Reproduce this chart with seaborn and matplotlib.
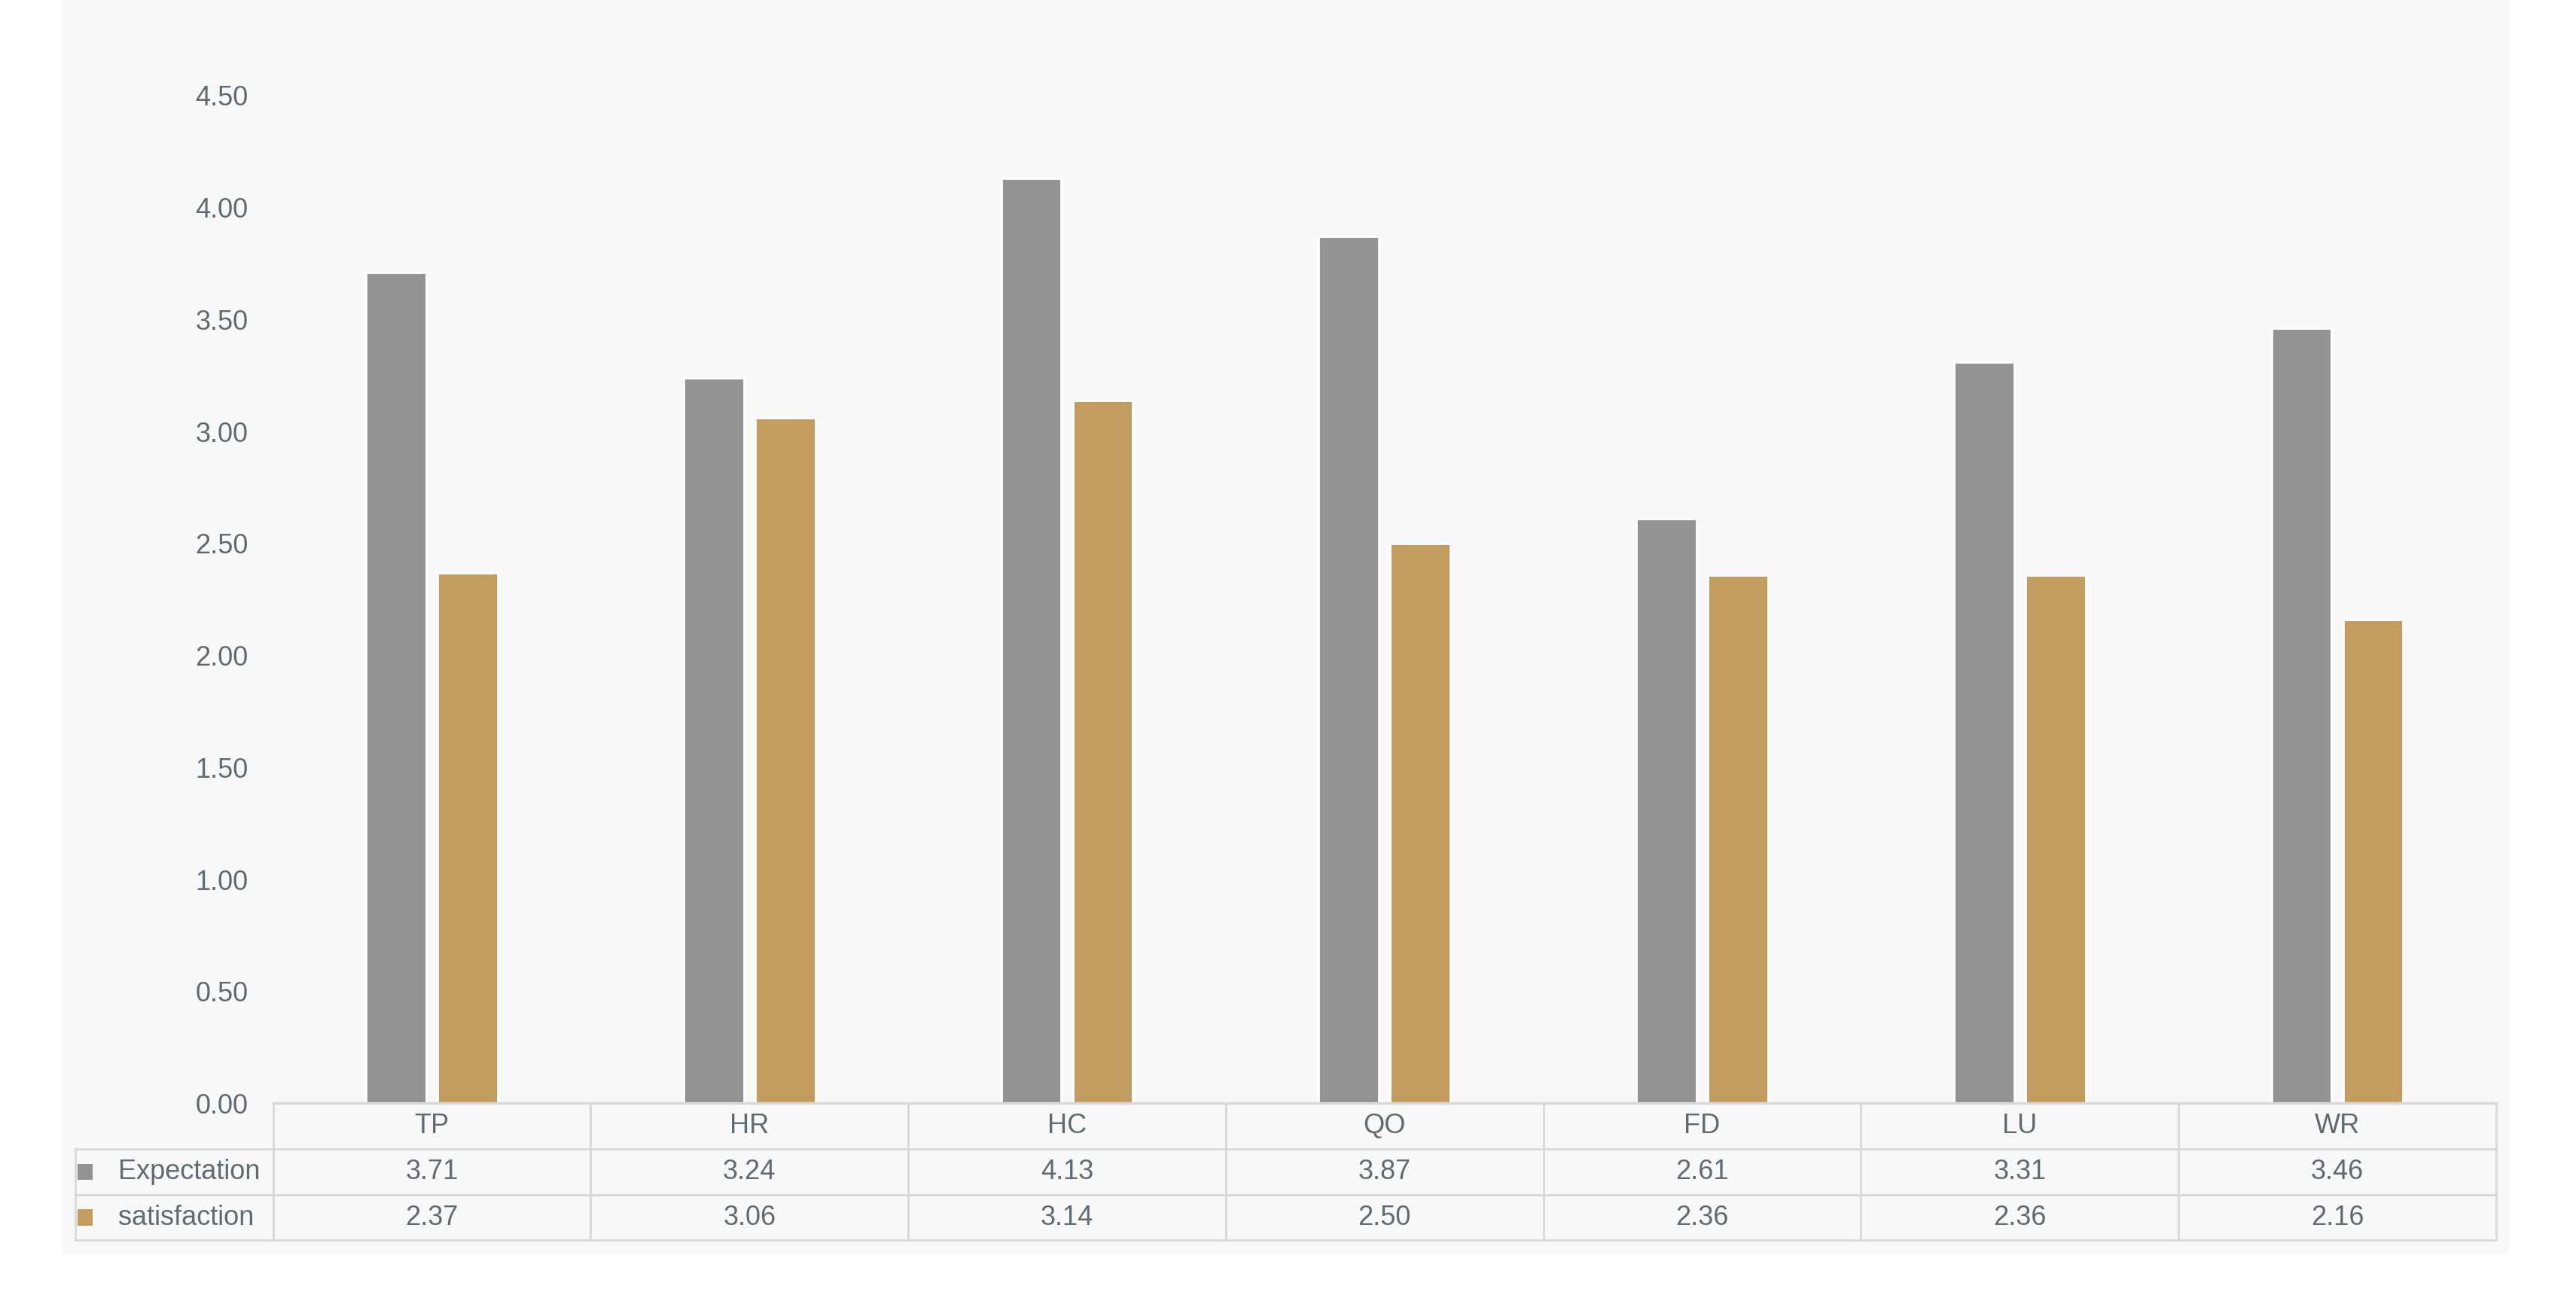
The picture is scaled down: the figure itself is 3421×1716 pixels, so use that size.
import numpy as np
import pandas as pd
import matplotlib
matplotlib.use("Agg")
import matplotlib.pyplot as plt
from matplotlib.patches import Rectangle
import seaborn as sns

# === Data ===
categories = ["TP", "HR", "HC", "QO", "FD", "LU", "WR"]
expectation = [3.71, 3.24, 4.13, 3.87, 2.61, 3.31, 3.46]
satisfaction = [2.37, 3.06, 3.14, 2.50, 2.36, 2.36, 2.16]
series_names = ["Expectation", "satisfaction"]
colors = ["#939393", "#c39d5f"]
text_col = "#5f6b70"
line_col = "#d9d9d9"

df = pd.DataFrame({
    "cat": categories * 2,
    "val": expectation + satisfaction,
    "series": [series_names[0]] * 7 + [series_names[1]] * 7,
})

sns.set_theme(style="white")
plt.rcParams["font.family"] = ["Liberation Sans", "DejaVu Sans"]

fig = plt.figure(figsize=(17.105, 8.58), dpi=200)
fig.patches.append(Rectangle((0.024, 0.03), 0.95, 0.97, transform=fig.transFigure,
                             facecolor="#f8f8f8", edgecolor="none", zorder=-10))
ax = fig.add_axes([0.106, 0.146, 0.863, 0.78])
ax.set_facecolor("none")

sns.barplot(data=df, x="cat", y="val", hue="series", palette=colors,
            width=0.45, gap=0.16, ax=ax, legend=False, saturation=1)

ax.set_ylim(0, 4.5)
ax.set_yticks(np.arange(0, 4.51, 0.5))
ax.set_yticklabels([f"{v:.2f}" for v in np.arange(0, 4.51, 0.5)], color=text_col, fontsize=13)
ax.tick_params(axis="y", length=0, pad=12)
ax.set_xticks([])
ax.set_xlabel("")
ax.set_ylabel("")
for s in ["left", "right", "top"]:
    ax.spines[s].set_visible(False)
ax.spines["bottom"].set_color(line_col)

# === Data table ===
cell_text = [[f"{v:.2f}" for v in expectation], [f"{v:.2f}" for v in satisfaction]]
tab = ax.table(cellText=cell_text, colLabels=categories,
               rowLabels=["   " + n for n in series_names],
               cellLoc="center", rowLoc="left", bbox=[0, -0.136, 1, 0.136])
tab.auto_set_font_size(False)
for (r, c), cell in tab.get_celld().items():
    cell.set_edgecolor(line_col)
    cell.set_facecolor("none")
    cell.get_text().set_color(text_col)
    cell.get_text().set_fontsize(13)
    if c == -1:
        cell.set_width(0.091)

# legend squares in the row-label cells
for i, col in enumerate(colors):
    yc = -0.136 * (1.5 - i) / 3 * 2 if False else -0.136 + 0.136 * (1 - i) / 3 + 0.136 / 6
    ax.add_patch(Rectangle((-0.088, yc - 0.008), 0.007, 0.016, transform=ax.transAxes,
                           facecolor=col, edgecolor="none", clip_on=False))

fig.savefig("out.png", dpi=200)
